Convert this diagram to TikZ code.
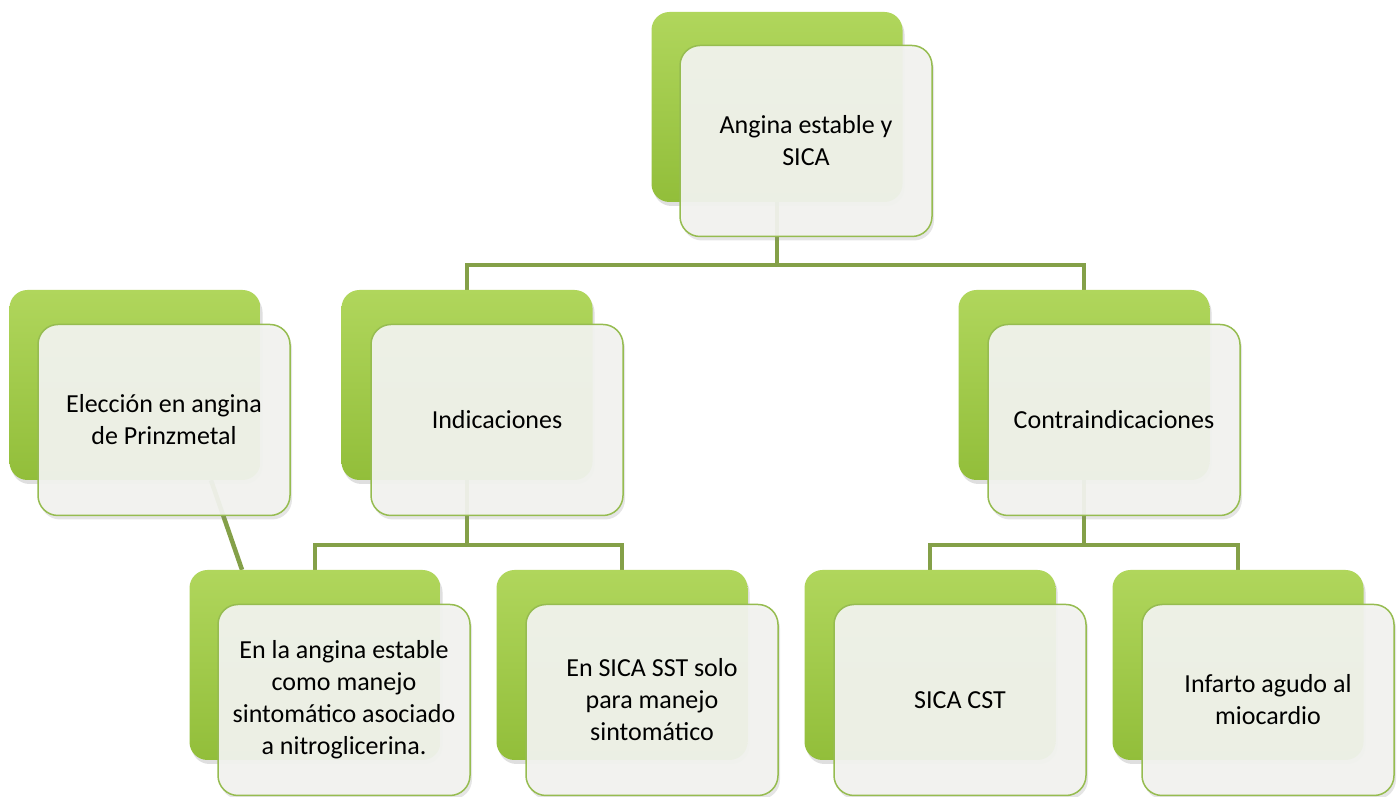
\documentclass[tikz,border=0pt]{standalone}
\usepackage{fontspec}
\setmainfont{Carlito}
\usetikzlibrary{shadows,backgrounds}
\definecolor{gtop}{RGB}{176,214,92}
\definecolor{gbot}{RGB}{146,190,58}
\definecolor{frontfill}{RGB}{243,244,240}
\definecolor{frontline}{RGB}{150,188,80}
\definecolor{linkcol}{RGB}{132,160,72}
\tikzset{
  backbox/.style={rounded corners=18pt, minimum width=251pt, minimum height=190pt,
    top color=gtop, bottom color=gbot,
    drop shadow={opacity=0.25, shadow xshift=2pt, shadow yshift=-4pt}},
  frontbox/.style={rounded corners=20pt, minimum width=252pt, minimum height=191pt,
    draw=frontline, line width=1.5pt, fill=frontfill, fill opacity=0.93, text opacity=1,
    align=center, text=black, font=\fontsize{26}{32}\selectfont,
    drop shadow={opacity=0.2, shadow xshift=2pt, shadow yshift=-4pt}},
  link/.style={draw=linkcol, line width=4.5pt}
}
\begin{document}
\begin{tikzpicture}[x=1pt, y=1pt]
  \useasboundingbox (0,0) rectangle (1400,797);
  % top level
  \node[backbox] (top-b) at (777,690) {};
  \node[frontbox] (top) at ([shift={(29,-34)}]top-b) {Angina estable y\\SICA};
  % second level
  \node[backbox] (elec-b) at (135,412) {};
  \node[frontbox] (elec) at ([shift={(29,-35)}]elec-b) {Elección en angina\\de Prinzmetal};
  \node[backbox] (ind-b) at (467,412) {};
  \node[frontbox] (ind) at ([shift={(30,-35)}]ind-b) {Indicaciones};
  \node[backbox] (contra-b) at (1084,412) {};
  \node[frontbox] (contra) at ([shift={(30,-35)}]contra-b) {Contraindicaciones};
  % third level
  \node[backbox] (angina-b) at (315,132) {};
  \node[frontbox] (angina) at ([shift={(29,-35)}]angina-b) {En la angina estable\\como manejo\\sintomático asociado\\a nitroglicerina.};
  \node[backbox] (sst-b) at (622,132) {};
  \node[frontbox] (sst) at ([shift={(30,-35)}]sst-b) {En SICA SST solo\\para manejo\\sintomático};
  \node[backbox] (cst-b) at (930,132) {};
  \node[frontbox] (cst) at ([shift={(30,-35)}]cst-b) {SICA CST};
  \node[backbox] (iam-b) at (1238,132) {};
  \node[frontbox] (iam) at ([shift={(30,-35)}]iam-b) {Infarto agudo al\\miocardio};
  % connectors
  \begin{scope}[on background layer]
    \fill[white] (0,0) rectangle (1400,797);
    \coordinate (j1) at (777,532);
    \coordinate (j2) at (467,252);
    \coordinate (j3) at (1084,252);
    \draw[link] (top-b.south) -- (j1) -| (ind-b.north);
    \draw[link] (j1) -| (contra-b.north);
    \draw[link] (ind-b.south) -- (j2) -| (angina-b.north);
    \draw[link] (j2) -| (sst-b.north);
    \draw[link] (contra-b.south) -- (j3) -| (cst-b.north);
    \draw[link] (j3) -| (iam-b.north);
    \draw[link] ([xshift=76pt]elec-b.south) -- ([xshift=-73pt]angina-b.north);
  \end{scope}
\end{tikzpicture}
\end{document}
